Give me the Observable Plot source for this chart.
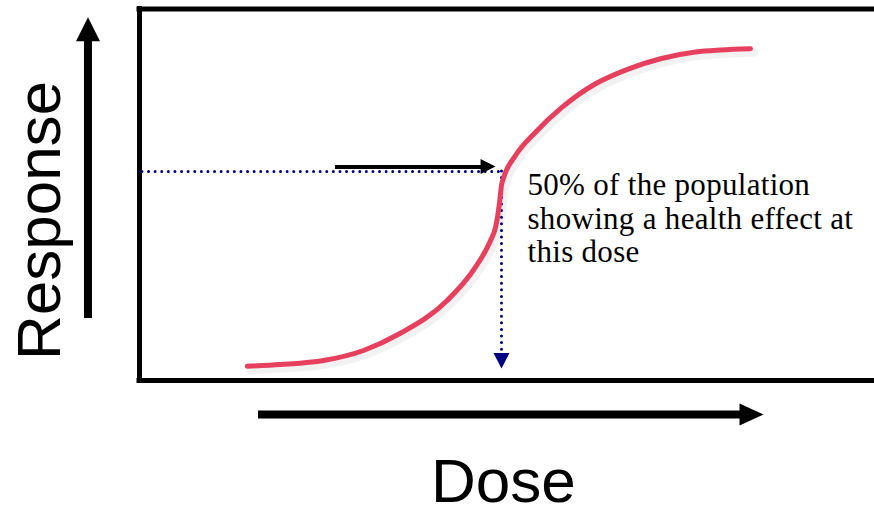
<!DOCTYPE html>
<html>
<head>
<meta charset="utf-8">
<script src="https://cdn.jsdelivr.net/npm/d3@7"></script>
<script src="https://cdn.jsdelivr.net/npm/@observablehq/plot@0.6"></script>
<style>
  html, body { margin: 0; padding: 0; background: #fff; overflow: hidden; }
  g[font-family="Liberation Serif"] { letter-spacing: 0.3px; }
</style>
</head>
<body>
<div id="chart"></div>
<script>
// Dose-response curve (frame units: dose 0-100, response 0-100)
const dose = [14.65, 19.18, 25.03, 30.48, 35.37, 41.86, 45.71, 47.76, 48.44, 48.78, 49.02, 49.25, 49.56, 51.16, 53.88, 57.51, 62.04, 66.57, 71.02, 75.65, 79.05, 83.13];
const response = [3.85, 4.31, 5.38, 8.08, 12.57, 21.53, 30.50, 37.69, 41.27, 44.95, 48.45, 52.49, 54.72, 60.57, 66.84, 73.57, 79.87, 83.90, 86.68, 88.43, 88.96, 89.29];

// 50% point annotation
const ed50Dose = [49.25];
const ed50Response = [56.26];
const ed50ArrowTip = [3.23];
const annotationLines = ["50% of the population", "showing a health effect at", "this dose"];

// pointer arrow (black) into the 50% point
const pointerX = [26.67, 47.0, 48.44];
const pointerY = [57.47];

// axis-arrow labels
const axisLabels = ["Response", "Dose"];
const responseArrow = {x: -7.01, y1: 16.69, y2: 92.5, tip: 97.79};
const doseArrow = {y: -9.15, x1: 16.19, x2: 82.0, tip: 84.9};

const curveData = dose.map((d, i) => ({dose: d, response: response[i]}));

function tri(points) {
  return {draw(ctx) {
    ctx.moveTo(points[0][0], points[0][1]);
    for (let i = 1; i < points.length; i++) ctx.lineTo(points[i][0], points[i][1]);
    ctx.closePath();
  }};
}
const bigUp = tri([[0, 0], [12, 24], [-12, 24]]);
const bigRight = tri([[0, 0], [-24, -11], [-24, 11]]);
const smallRight = tri([[0, 0], [-15, -7.5], [-15, 7.5]]);
const smallDown = tri([[0, 0], [-8, -15.5], [8, -15.5]]);

const plot = Plot.plot({
  width: 874,
  height: 508,
  margin: 0,
  style: {background: "#fff"},
  x: {domain: [0, 100], range: [139, 874], axis: null},
  y: {domain: [0, 100], range: [380, 8.5], axis: null},
  marks: [
    // frame (open on the right)
    Plot.ruleY([0, 100], {x1: 0, x2: 110, stroke: "#000", strokeWidth: 5, strokeLinecap: "square"}),
    Plot.ruleX([0], {y1: 0, y2: 100, stroke: "#000", strokeWidth: 5, strokeLinecap: "square"}),
    // dotted guide lines
    Plot.ruleY([{y: ed50Response[0]}], {y: "y", x1: 0.4, x2: ed50Dose[0], stroke: "#000080", strokeWidth: 3, strokeDasharray: "0,6.6", strokeLinecap: "round"}),
    Plot.ruleX([{x: ed50Dose[0]}], {x: "x", y1: ed50Response[0], y2: ed50ArrowTip[0] + 4.5, stroke: "#000080", strokeWidth: 3, strokeDasharray: "0,6.6", strokeLinecap: "round"}),
    Plot.dot([{x: ed50Dose[0], y: ed50ArrowTip[0]}], {x: "x", y: "y", symbol: smallDown, fill: "#000080", stroke: "none"}),
    // curve shadow + curve
    Plot.line(curveData, {x: "dose", y: "response", curve: "monotone-x", stroke: "#000", strokeOpacity: 0.05, strokeWidth: 8, dx: 3, dy: 4}),
    Plot.line(curveData, {x: "dose", y: "response", curve: "monotone-x", stroke: "#e6405e", strokeWidth: 5, strokeLinecap: "round"}),
    // black pointer arrow
    Plot.ruleY([{y: pointerY[0]}], {y: "y", x1: pointerX[0], x2: pointerX[1], stroke: "#000", strokeWidth: 4}),
    Plot.dot([{x: pointerX[2], y: pointerY[0] + 0.13}], {x: "x", y: "y", symbol: smallRight, fill: "#000", stroke: "none"}),
    // annotation
    Plot.text([{t: annotationLines.join("\n")}], {x: () => 52.79, y: () => 56.26, text: "t", textAnchor: "start", lineAnchor: "top", lineHeight: 1.08, fontSize: 31, fontFamily: "Liberation Serif", fill: "#000"}),
    // Response axis arrow
    Plot.ruleX([responseArrow], {x: "x", y1: "y1", y2: "y2", stroke: "#000", strokeWidth: 8}),
    Plot.dot([responseArrow], {x: "x", y: "tip", symbol: bigUp, fill: "#000", stroke: "none"}),
    Plot.text([{t: axisLabels[0]}], {x: () => -10.75, y: () => 43.07, text: "t", rotate: -90, textAnchor: "middle", lineAnchor: "bottom", fontSize: 62, fontFamily: "Liberation Sans", fill: "#000"}),
    // Dose axis arrow
    Plot.ruleY([doseArrow], {y: "y", x1: "x1", x2: "x2", stroke: "#000", strokeWidth: 8}),
    Plot.dot([doseArrow], {x: "tip", y: "y", symbol: bigRight, fill: "#000", stroke: "none"}),
    Plot.text([{t: axisLabels[1]}], {x: () => 49.52, y: () => -32.8, text: "t", textAnchor: "middle", lineAnchor: "bottom", fontSize: 62, fontFamily: "Liberation Sans", fill: "#000"})
  ]
});
document.getElementById("chart").appendChild(plot);
</script>
</body>
</html>
